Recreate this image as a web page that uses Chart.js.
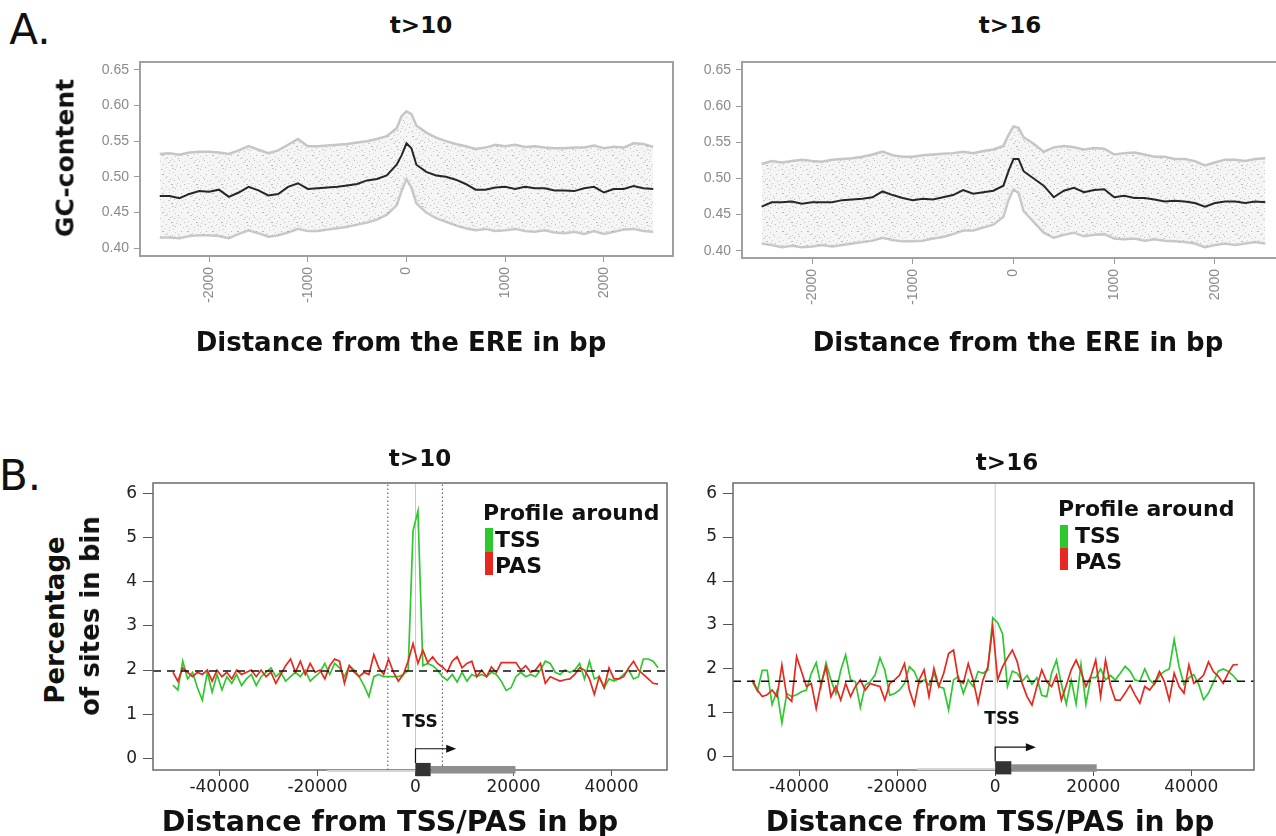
<!DOCTYPE html>
<html>
<head>
<meta charset="utf-8">
<script src="https://cdn.jsdelivr.net/npm/chart.js@4.4.1/dist/chart.umd.min.js"></script>
<style>
  html, body { margin: 0; padding: 0; background: #fff; }
  body { width: 1276px; height: 836px; position: relative; overflow: hidden; font-family: 'DejaVu Sans', sans-serif; color: #111; }
  canvas { position: absolute; }
  .t { position: absolute; line-height: 1; white-space: nowrap; }
  .c { transform: translate(-50%, -50%); }
  .l { transform: translateY(-50%); }
  .b { font-weight: bold; }
  .rot { transform: translate(-50%, -50%) rotate(-90deg); }
  .sw { position: absolute; width: 8px; }
</style>
</head>
<body>
<canvas id="gcT10" width="640" height="300" style="left:60px;top:40px"></canvas>
<canvas id="gcT16" width="620" height="300" style="left:680px;top:40px"></canvas>
<canvas id="binT10" width="600" height="386" style="left:80px;top:450px"></canvas>
<canvas id="binT16" width="610" height="386" style="left:660px;top:450px"></canvas>

<div class="t c" style="left:30px;top:30px;font-size:42px">A.</div>
<div class="t c" style="left:20px;top:476px;font-size:42px">B.</div>

<div class="t c b" style="left:421px;top:25px;font-size:23px">t&gt;10</div>
<div class="t c b" style="left:1010px;top:25px;font-size:23px">t&gt;16</div>
<div class="t c b" style="left:420px;top:458px;font-size:23px">t&gt;10</div>
<div class="t c b" style="left:1007px;top:462px;font-size:23px">t&gt;16</div>

<div class="t rot b" style="left:65px;top:158px;font-size:25px">GC-content</div>
<div class="t c b" style="left:401px;top:342px;font-size:26px">Distance from the ERE in bp</div>
<div class="t c b" style="left:1018px;top:342px;font-size:26px">Distance from the ERE in bp</div>

<div class="t rot b" style="left:55px;top:620px;font-size:26px">Percentage</div>
<div class="t rot b" style="left:90px;top:616px;font-size:26px">of sites in bin</div>
<div class="t c b" style="left:390px;top:822px;font-size:28.5px">Distance from TSS/PAS in bp</div>
<div class="t c b" style="left:990px;top:822px;font-size:28px">Distance from TSS/PAS in bp</div>

<div class="t l b" style="left:483px;top:513px;font-size:22px">Profile around</div>
<div class="sw" style="left:485px;top:528px;height:24px;background:#2ec72e"></div>
<div class="sw" style="left:485px;top:552px;height:23px;background:#e8281e"></div>
<div class="t l b" style="left:495px;top:540px;font-size:22px">TSS</div>
<div class="t l b" style="left:495px;top:566px;font-size:22px">PAS</div>

<div class="t l b" style="left:1058px;top:509px;font-size:22px">Profile around</div>
<div class="sw" style="left:1060px;top:525px;height:23px;background:#2ec72e"></div>
<div class="sw" style="left:1060px;top:548px;height:22px;background:#e8281e"></div>
<div class="t l b" style="left:1075px;top:536px;font-size:22px">TSS</div>
<div class="t l b" style="left:1075px;top:562px;font-size:22px">PAS</div>

<div class="t c b" style="left:420px;top:721px;font-size:17px">TSS</div>
<div class="t c b" style="left:1002px;top:718px;font-size:17px">TSS</div>

<script>
// Panel A: GC-content around the ERE (bp)
const ERE_POS = [-2500, -2400, -2300, -2200, -2100, -2000, -1900, -1800, -1700, -1600,
  -1500, -1400, -1300, -1200, -1100, -1000, -900, -800, -700, -600, -500, -400, -300, -200, -100,
  -50, 0, 50,
  100, 200, 300, 400, 500, 600, 700, 800, 900, 1000, 1100, 1200, 1300, 1400, 1500,
  1600, 1700, 1800, 1900, 2000, 2100, 2200, 2300, 2400, 2500];

const GC_T10_MEAN = [0.473, 0.473, 0.470, 0.476, 0.480, 0.479, 0.482, 0.472, 0.478, 0.486,
  0.481, 0.474, 0.476, 0.486, 0.491, 0.483, 0.484, 0.485, 0.486, 0.488, 0.490, 0.495, 0.497, 0.502, 0.517,
  0.530, 0.547, 0.540,
  0.517, 0.507, 0.502, 0.500, 0.496, 0.490, 0.482, 0.482, 0.485, 0.486, 0.483, 0.486, 0.484, 0.484, 0.481,
  0.481, 0.480, 0.484, 0.486, 0.478, 0.483, 0.483, 0.487, 0.484, 0.483];
const GC_T10_HIGH = [0.532, 0.533, 0.531, 0.534, 0.535, 0.535, 0.534, 0.532, 0.537, 0.543,
  0.538, 0.533, 0.537, 0.545, 0.553, 0.543, 0.543, 0.544, 0.545, 0.546, 0.548, 0.550, 0.553, 0.557, 0.568,
  0.585, 0.592, 0.588,
  0.572, 0.562, 0.555, 0.550, 0.546, 0.543, 0.539, 0.541, 0.545, 0.543, 0.545, 0.542, 0.543, 0.541, 0.540,
  0.540, 0.541, 0.541, 0.544, 0.540, 0.542, 0.541, 0.547, 0.546, 0.542];
const GC_T10_LOW = [0.415, 0.415, 0.414, 0.417, 0.418, 0.418, 0.417, 0.414, 0.420, 0.425,
  0.421, 0.416, 0.418, 0.422, 0.427, 0.424, 0.424, 0.426, 0.428, 0.430, 0.433, 0.436, 0.440, 0.447, 0.460,
  0.480, 0.497, 0.485,
  0.463, 0.450, 0.442, 0.437, 0.432, 0.428, 0.425, 0.427, 0.424, 0.425, 0.427, 0.424, 0.423, 0.425, 0.422,
  0.421, 0.423, 0.420, 0.424, 0.420, 0.423, 0.426, 0.427, 0.424, 0.423];

const GC_T16_MEAN = [0.461, 0.467, 0.467, 0.468, 0.465, 0.467, 0.467, 0.467, 0.470, 0.471,
  0.472, 0.474, 0.482, 0.477, 0.473, 0.470, 0.472, 0.471, 0.474, 0.477, 0.484, 0.479, 0.481, 0.483, 0.490,
  0.510, 0.527, 0.527,
  0.510, 0.500, 0.490, 0.474, 0.483, 0.487, 0.481, 0.484, 0.485, 0.474, 0.476, 0.473, 0.473, 0.471, 0.468,
  0.469, 0.468, 0.466, 0.461, 0.466, 0.468, 0.468, 0.466, 0.468, 0.467];
const GC_T16_HIGH = [0.520, 0.524, 0.522, 0.524, 0.526, 0.524, 0.523, 0.526, 0.527, 0.528,
  0.530, 0.533, 0.537, 0.532, 0.530, 0.530, 0.532, 0.533, 0.534, 0.535, 0.537, 0.535, 0.538, 0.540, 0.545,
  0.560, 0.572, 0.570,
  0.557, 0.548, 0.537, 0.543, 0.545, 0.543, 0.540, 0.542, 0.541, 0.533, 0.535, 0.536, 0.533, 0.530, 0.530,
  0.527, 0.527, 0.524, 0.518, 0.522, 0.526, 0.526, 0.524, 0.527, 0.528];
const GC_T16_LOW = [0.410, 0.408, 0.405, 0.407, 0.405, 0.406, 0.408, 0.406, 0.408, 0.410,
  0.412, 0.414, 0.418, 0.415, 0.413, 0.413, 0.414, 0.417, 0.419, 0.423, 0.428, 0.428, 0.432, 0.436, 0.447,
  0.470, 0.485, 0.480,
  0.455, 0.440, 0.425, 0.418, 0.422, 0.425, 0.420, 0.422, 0.423, 0.417, 0.416, 0.417, 0.414, 0.416, 0.414,
  0.413, 0.412, 0.410, 0.405, 0.408, 0.410, 0.408, 0.410, 0.412, 0.410];

const GC_TICKS_X = [-2000, -1000, 0, 1000, 2000];
const GC_TICKS_Y = [0.40, 0.45, 0.50, 0.55, 0.60, 0.65];

// Panel B: percentage of sites per 1 kb bin around TSS / PAS
const BIN_CENTRES = Array.from({ length: 100 }, (_, i) => -49500 + 1000 * i);

const TSS_T10 = [1.66, 1.55, 2.2, 1.8, 1.95, 1.6, 1.32, 1.95, 1.5, 1.9,
  1.55, 1.85, 1.7, 1.9, 1.65, 1.8, 1.9, 1.65, 1.85, 1.95,
  2.05, 1.85, 1.95, 1.75, 1.85, 1.95, 1.85, 2.0, 1.75, 1.85,
  1.95, 2.15, 1.9, 2.15, 2.05, 1.85, 2.1, 2.0, 1.85, 1.65,
  1.4, 1.85, 1.9, 1.85, 1.85, 1.85, 1.85, 1.9, 2.0, 5.15,
  5.6, 2.1, 2.15, 2.1, 2.0, 1.85, 1.77, 1.9, 1.73, 1.95,
  1.75, 1.9, 1.85, 1.9, 1.85, 1.95, 1.9, 1.75, 1.54, 1.6,
  1.85, 1.95, 1.85, 1.9, 1.85, 2.0, 2.2, 2.15, 1.95, 1.9,
  2.0, 1.95, 2.0, 2.15, 1.8, 2.2, 1.8, 1.85, 1.6, 1.8,
  1.75, 1.8, 1.9, 2.0, 1.8, 1.85, 2.25, 2.25, 2.2, 2.05];
const PAS_T10 = [1.95, 1.75, 2.05, 1.95, 1.85, 1.95, 1.9, 2.0, 1.75, 2.0,
  1.85, 1.95, 1.8, 2.0, 1.9, 1.95, 2.0, 1.85, 2.0, 1.85,
  1.95, 1.7, 1.9, 2.1, 2.25, 1.95, 2.2, 1.9, 2.15, 1.95,
  2.0, 1.8, 2.1, 2.25, 2.2, 1.7, 2.1, 1.95, 1.85, 1.95,
  1.9, 2.35, 2.05, 1.9, 2.25, 1.95, 1.75, 1.9, 2.2, 2.6,
  2.15, 2.45, 2.17, 2.3, 2.15, 2.07, 1.96, 2.2, 2.3, 2.05,
  2.15, 2.2, 1.85, 2.0, 1.85, 2.07, 1.95, 2.17, 2.17, 2.17,
  2.17, 2.0, 2.1, 1.95, 2.0, 2.15, 1.7, 1.85, 1.8, 1.75,
  1.78, 1.8, 1.9, 2.05, 2.0, 1.8, 1.45, 1.85, 1.6, 2.05,
  1.8, 1.8, 1.85, 2.05, 2.2, 2.0, 1.9, 1.8, 1.7, 1.68];
const TSS_T16 = [1.7, 1.5, 1.97, 1.97, 1.19, 1.5, 0.77, 1.44, 1.37, 1.41,
  1.48, 1.52, 1.9, 2.14, 1.6, 2.14, 1.75, 1.44, 1.97, 2.32,
  1.75, 1.71, 1.12, 1.63, 1.71, 1.86, 2.25, 1.97, 1.4, 1.44,
  1.52, 1.67, 2.05, 1.94, 1.67, 1.75, 1.63, 1.9, 1.6, 1.56,
  1.07, 1.75, 1.83, 1.44, 1.75, 1.6, 1.94, 1.9, 1.97, 3.16,
  3.05, 2.8, 1.6, 1.95, 1.9, 1.72, 1.85, 1.65, 1.8, 1.4,
  1.37, 1.9, 2.2, 1.65, 1.2, 1.75, 1.2, 2.1, 1.2, 1.8,
  1.8, 2.0, 1.75, 1.85, 1.75, 1.9, 2.06, 1.95, 1.75, 1.72,
  2.0, 1.75, 1.65, 1.85, 1.95, 2.0, 2.67, 2.05, 1.65, 1.8,
  1.87, 1.65, 1.3, 1.45, 1.7, 1.95, 2.0, 1.95, 1.85, 1.72];
const PAS_T16 = [1.75, 1.52, 1.37, 1.41, 1.52, 1.37, 2.09, 1.37, 1.26, 2.28,
  1.94, 1.6, 1.67, 1.1, 1.67, 2.05, 1.37, 1.6, 1.29, 1.67,
  1.37, 1.6, 1.75, 1.52, 1.67, 1.63, 1.6, 1.29, 1.67, 1.75,
  1.86, 2.12, 1.52, 1.18, 1.75, 1.98, 1.37, 2.01, 1.6, 1.9,
  2.35, 2.43, 1.75, 1.67, 2.12, 1.75, 1.22, 1.75, 2.05, 2.96,
  1.75, 2.05, 2.25, 2.43, 2.16, 1.67, 1.37, 1.18, 1.6, 1.98,
  1.71, 1.6, 1.86, 1.29, 1.63, 1.98, 2.2, 1.94, 1.6, 1.83,
  2.2, 1.37, 2.2, 1.63, 1.29, 1.29, 1.45, 1.63, 1.41, 1.22,
  1.6, 1.52, 1.67, 1.94, 1.71, 1.29, 1.9, 1.6, 1.45, 2.09,
  1.67, 1.75, 1.86, 2.16, 1.94, 1.83, 1.67, 1.9, 2.09, 2.1];

const BASELINE_T10 = 1.98;
const BASELINE_T16 = 1.72;
const WINDOW_T10 = [-5650, 5500];

const BIN_TICKS_X = [-40000, -20000, 0, 20000, 40000];
const BIN_TICKS_Y = [0, 1, 2, 3, 4, 5, 6];

const GREEN = '#30c830';
const RED = '#e6281e';

Chart.defaults.font.family = "'DejaVu Sans', sans-serif";

function pts(xs, ys) {
  return xs.map((x, i) => ({ x: x, y: ys[i] }));
}

function fixedTicks(values) {
  return (scale) => {
    scale.ticks = values.map((v) => ({ value: v }));
  };
}

// speckled texture standing in for the grey point cloud
function cloudPattern() {
  const tile = document.createElement('canvas');
  tile.width = 25;
  tile.height = 19;
  const c = tile.getContext('2d');
  c.fillStyle = 'rgba(220,220,220,0.28)';
  c.fillRect(0, 0, 25, 19);
  const dots = [[2, 1], [9, 0], [15, 2], [21, 1], [5, 4], [12, 5], [18, 4], [0, 7], [8, 8], [14, 7],
    [22, 8], [3, 10], [11, 11], [17, 10], [6, 13], [20, 13], [1, 15], [9, 16], [15, 15], [23, 16],
    [12, 14], [19, 6], [4, 17], [16, 12], [24, 11], [7, 3], [13, 18], [10, 6]];
  dots.forEach((p, i) => {
    c.fillStyle = i % 3 === 0 ? 'rgba(135,135,135,0.55)' : 'rgba(170,170,170,0.55)';
    c.fillRect(p[0], p[1], i % 4 === 0 ? 2 : 1, 1);
  });
  return c.createPattern(tile, 'repeat');
}

const boxPlugin = {
  id: 'rbox',
  afterDraw(chart, args, opts) {
    const { ctx, chartArea: a } = chart;
    ctx.save();
    ctx.strokeStyle = opts.color;
    ctx.lineWidth = opts.width;
    ctx.strokeRect(a.left, a.top, a.right - a.left, a.bottom - a.top);
    ctx.restore();
  },
};

// gene model drawn under the x axis: upstream line, first exon, gene body, TSS arrow
const genePlugin = {
  id: 'gene',
  afterDraw(chart, args, o) {
    const { ctx } = chart;
    const px = (v) => chart.scales.x.getPixelForValue(v);
    const py = (v) => chart.scales.y.getPixelForValue(v);
    ctx.save();
    ctx.strokeStyle = '#d6d6d6';
    ctx.lineWidth = 2;
    ctx.beginPath();
    ctx.moveTo(px(o.upstream), py(-0.28));
    ctx.lineTo(px(0), py(-0.28));
    ctx.stroke();

    ctx.fillStyle = '#8e8e8e';
    ctx.fillRect(px(o.exonEnd), py(-0.17), px(o.geneEnd) - px(o.exonEnd), py(-0.34) - py(-0.17));
    ctx.fillStyle = '#333';
    ctx.fillRect(px(0), py(-0.1), px(o.exonEnd) - px(0), py(-0.4) - py(-0.1));

    const ay = py(0.22);
    const tip = px(o.arrowTo);
    ctx.strokeStyle = '#111';
    ctx.lineWidth = 1.2;
    ctx.beginPath();
    ctx.moveTo(px(0), py(-0.1));
    ctx.lineTo(px(0), ay);
    ctx.lineTo(tip - 8, ay);
    ctx.stroke();
    ctx.fillStyle = '#111';
    ctx.beginPath();
    ctx.moveTo(tip, ay);
    ctx.lineTo(tip - 10, ay - 4);
    ctx.lineTo(tip - 10, ay + 4);
    ctx.closePath();
    ctx.fill();
    ctx.restore();
  },
};

function gcChart(id, mean, high, low, yMin, yMax, xMin, xMax, pad, yWidth, xHeight) {
  new Chart(document.getElementById(id), {
    type: 'line',
    data: {
      datasets: [
        { data: pts(ERE_POS, mean), borderColor: '#262626', borderWidth: 2 },
        { data: pts(ERE_POS, high), borderColor: '#c6c6c6', borderWidth: 2.5, fill: '+1', backgroundColor: cloudPattern() },
        { data: pts(ERE_POS, low), borderColor: '#c6c6c6', borderWidth: 2.5, fill: false },
      ],
    },
    options: {
      responsive: false,
      animation: false,
      layout: { padding: pad },
      elements: { point: { radius: 0 }, line: { tension: 0 } },
      plugins: { legend: { display: false }, tooltip: { enabled: false }, rbox: { color: '#a0a0a0', width: 2 } },
      scales: {
        x: {
          type: 'linear', min: xMin, max: xMax,
          afterBuildTicks: fixedTicks(GC_TICKS_X),
          afterFit: (s) => { s.height = xHeight; },
          grid: { drawOnChartArea: false, tickLength: 6, color: '#9a9a9a' },
          border: { display: false },
          ticks: {
            autoSkip: false, minRotation: 90, maxRotation: 90, padding: 5,
            color: '#8a8a8a', font: { family: "'Liberation Sans', sans-serif", size: 14 },
            callback: (v) => String(v),
          },
        },
        y: {
          type: 'linear', min: yMin, max: yMax,
          afterBuildTicks: fixedTicks(GC_TICKS_Y),
          afterFit: (s) => { s.width = yWidth; },
          grid: { drawOnChartArea: false, tickLength: 6, color: '#9a9a9a' },
          border: { display: false },
          ticks: {
            padding: 5, color: '#8a8a8a', font: { family: "'Liberation Sans', sans-serif", size: 14 },
            callback: (v) => v.toFixed(2),
          },
        },
      },
    },
    plugins: [boxPlugin],
  });
}

function binChart(id, tss, pas, base, windowLines, xMin, xMax, yMin, pad, gene) {
  const datasets = [
    { data: [{ x: xMin, y: base }, { x: xMax, y: base }], borderColor: '#111', borderWidth: 1.6, borderDash: [8, 6] },
    { data: pts(BIN_CENTRES, pas), borderColor: RED, borderWidth: 1.7 },
    { data: pts(BIN_CENTRES, tss), borderColor: GREEN, borderWidth: 1.7 },
    { data: [{ x: 0, y: yMin }, { x: 0, y: 6.3 }], borderColor: '#c8c8c8', borderWidth: 1 },
  ];
  windowLines.forEach((w) => {
    datasets.push({ data: [{ x: w, y: yMin }, { x: w, y: 6.3 }], borderColor: '#4f62a0', borderWidth: 1.2, borderDash: [1.5, 2.5] });
  });
  new Chart(document.getElementById(id), {
    type: 'line',
    data: { datasets: datasets },
    options: {
      responsive: false,
      animation: false,
      layout: { padding: pad },
      elements: { point: { radius: 0 }, line: { tension: 0 } },
      plugins: { legend: { display: false }, tooltip: { enabled: false }, rbox: { color: '#6a6a6a', width: 1.5 }, gene: gene },
      scales: {
        x: {
          type: 'linear', min: xMin, max: xMax,
          afterBuildTicks: fixedTicks(BIN_TICKS_X),
          afterFit: (s) => { s.height = 66; },
          grid: { drawOnChartArea: false, tickLength: 6, color: '#555' },
          border: { display: false },
          ticks: { autoSkip: false, maxRotation: 0, padding: 1, color: '#222', font: { size: 17 }, callback: (v) => String(v) },
        },
        y: {
          type: 'linear', min: yMin, max: 6.23,
          afterBuildTicks: fixedTicks(BIN_TICKS_Y),
          afterFit: (s) => { s.width = 73; },
          grid: { drawOnChartArea: false, tickLength: 10, color: '#555' },
          border: { display: false },
          ticks: { padding: 6, color: '#222', font: { size: 17 }, callback: (v) => String(v) },
        },
      },
    },
    plugins: [boxPlugin, genePlugin],
  });
}

gcChart('gcT10', GC_T10_MEAN, GC_T10_HIGH, GC_T10_LOW, 0.389, 0.661, -2700, 2700,
  { left: 0, top: 22, right: 27, bottom: 0 }, 80, 84);
gcChart('gcT16', GC_T16_MEAN, GC_T16_HIGH, GC_T16_LOW, 0.39, 0.661, -2695, 2695,
  { left: 0, top: 22, right: 15, bottom: 0 }, 62, 82);

binChart('binT10', TSS_T10, PAS_T10, BASELINE_T10, WINDOW_T10, -53570, 51330, -0.26,
  { left: 0, top: 33, right: 13, bottom: 0 },
  { upstream: -18000, exonEnd: 3100, geneEnd: 20400, arrowTo: 8300 });
binChart('binT16', TSS_T16, PAS_T16, BASELINE_T16, [], -53470, 52780, -0.30,
  { left: 0, top: 33, right: 16, bottom: 0 },
  { upstream: -16000, exonEnd: 3300, geneEnd: 20700, arrowTo: 8300 });
</script>
</body>
</html>
